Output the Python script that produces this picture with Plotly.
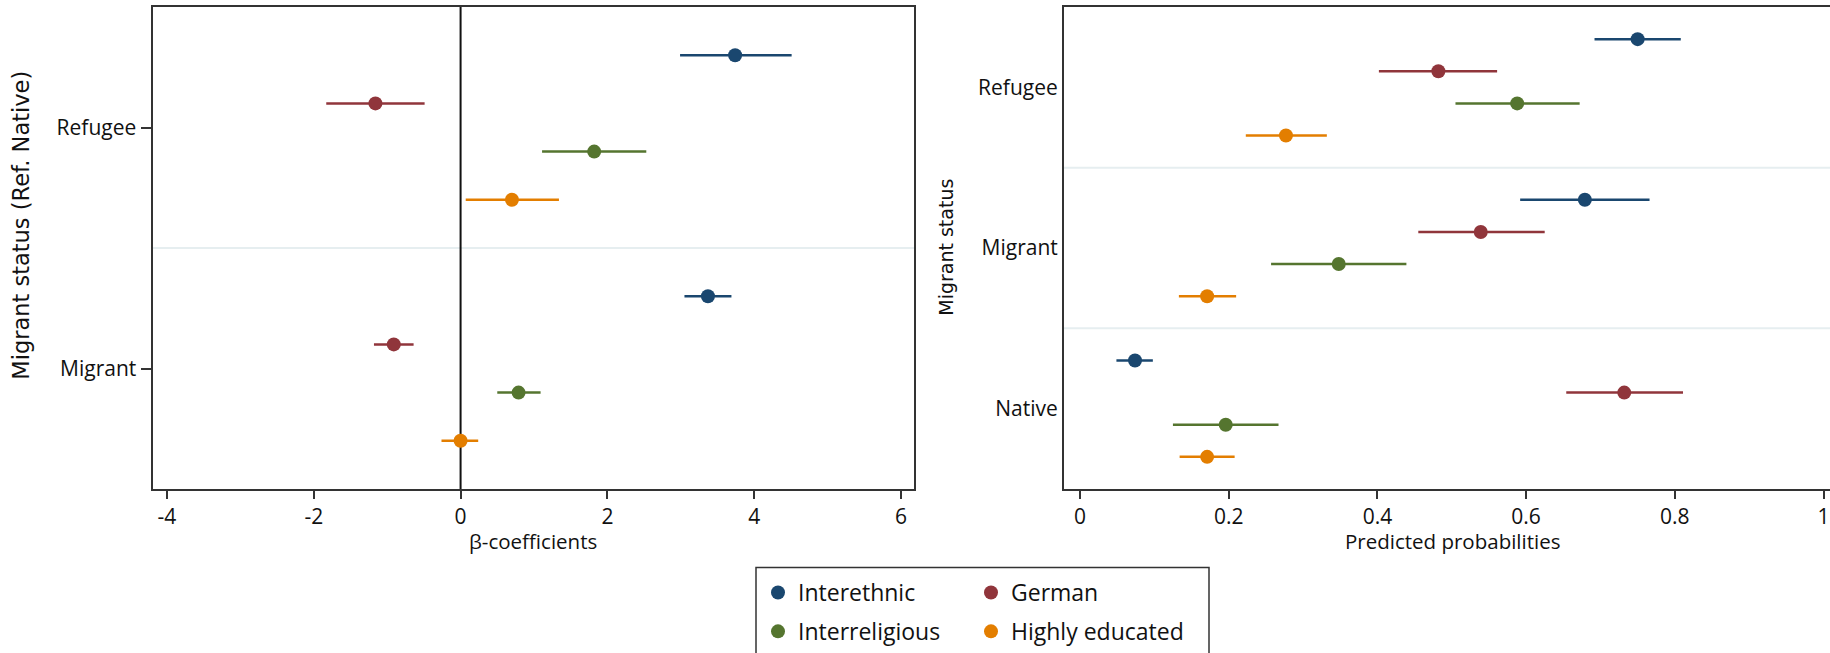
import plotly.graph_objects as go

# Outcome categories (series) and their colours
series = ["Interethnic", "German", "Interreligious", "Highly educated"]
colors = ["#1a476f", "#90353b", "#55752f", "#e37e00"]

# Left panel: beta coefficients by migrant status (reference: Native)
beta_groups = ["Refugee", "Migrant"]
beta_est = [[3.74, 3.37], [-1.16, -0.91], [1.82, 0.79], [0.70, 0.00]]
beta_lo = [[2.99, 3.05], [-1.83, -1.18], [1.11, 0.50], [0.07, -0.26]]
beta_hi = [[4.51, 3.69], [-0.49, -0.64], [2.53, 1.09], [1.34, 0.24]]
beta_ticks = [-4, -2, 0, 2, 4, 6]
beta_ticktext = ["-4", "-2", "0", "2", "4", "6"]

# Right panel: predicted probabilities by migrant status
prob_groups = ["Refugee", "Migrant", "Native"]
prob_est = [[0.750, 0.679, 0.074], [0.482, 0.539, 0.732],
            [0.588, 0.348, 0.196], [0.277, 0.171, 0.171]]
prob_lo = [[0.692, 0.592, 0.049], [0.402, 0.455, 0.654],
           [0.505, 0.257, 0.125], [0.223, 0.133, 0.134]]
prob_hi = [[0.808, 0.766, 0.098], [0.561, 0.625, 0.811],
           [0.672, 0.439, 0.267], [0.332, 0.210, 0.208]]
prob_ticks = [0, 0.2, 0.4, 0.6, 0.8, 1]
prob_ticktext = ["0", "0.2", "0.4", "0.6", "0.8", "1"]

W, H = 1830, 653
M_T, M_B = 7, 163.5
STEP = 5  # rows per group: 4 series + 1 spacer
TICK_FONT = dict(family="Open Sans", size=21, color="#111")
TITLE_FONT = dict(family="Open Sans", size=20.5, color="#111")
LINE = "#333"


def rows(n_groups, s):
    return [g * STEP + s for g in range(n_groups)]


def py(p):
    """pixel row -> paper y"""
    return (H - M_B - p) / (H - M_T - M_B)


fig = go.Figure()
for s, name in enumerate(series):
    leg = "legend" if s in (0, 2) else "legend2"
    est, lo, hi = beta_est[s], beta_lo[s], beta_hi[s]
    fig.add_trace(go.Scatter(
        x=est, y=rows(len(beta_groups), s), mode="markers", name=name,
        legend=leg, legendgroup=name,
        marker=dict(color=colors[s], size=14),
        error_x=dict(type="data", symmetric=False,
                     array=[h - e for h, e in zip(hi, est)],
                     arrayminus=[e - l for e, l in zip(est, lo)],
                     color=colors[s], thickness=2.5, width=0),
        xaxis="x", yaxis="y"))
    est, lo, hi = prob_est[s], prob_lo[s], prob_hi[s]
    fig.add_trace(go.Scatter(
        x=est, y=rows(len(prob_groups), s), mode="markers", name=name,
        legendgroup=name, showlegend=False,
        marker=dict(color=colors[s], size=14),
        error_x=dict(type="data", symmetric=False,
                     array=[h - e for h, e in zip(hi, est)],
                     arrayminus=[e - l for e, l in zip(est, lo)],
                     color=colors[s], thickness=2.5, width=0),
        xaxis="x2", yaxis="y2"))

shapes = []
# light separators between status groups
for g in range(len(beta_groups) - 1):
    shapes.append(dict(type="line", xref="x domain", yref="y", x0=0, x1=1,
                       y0=g * STEP + 4, y1=g * STEP + 4, layer="below",
                       line=dict(color="#e6eef0", width=2)))
for g in range(len(prob_groups) - 1):
    shapes.append(dict(type="line", xref="x2 domain", yref="y2", x0=0, x1=1,
                       y0=g * STEP + 4, y1=g * STEP + 4, layer="below",
                       line=dict(color="#e6eef0", width=2)))
# reference line at zero
shapes.append(dict(type="line", xref="x", yref="y domain", x0=0, x1=0,
                   y0=0, y1=1, layer="below", line=dict(color="#111", width=2)))
# legend frame
shapes.append(dict(type="rect", xref="paper", yref="paper",
                   x0=756 / W, x1=1209 / W, y0=py(680), y1=py(568),
                   line=dict(color=LINE, width=1.5)))

axis_common = dict(showgrid=False, zeroline=False, showline=True,
                   linecolor=LINE, linewidth=2, tickfont=TICK_FONT,
                   ticks="outside", tickcolor=LINE, tickwidth=1.5)

LEGEND_FONT = dict(family="Open Sans", size=23, color="#111")

fig.update_layout(
    width=W, height=H,
    margin=dict(l=0, r=0, t=M_T, b=M_B),
    paper_bgcolor="white", plot_bgcolor="white",
    showlegend=True,
    xaxis=dict(domain=[152.5 / W, 914 / W], range=[-4.197, 6.177],
               tickvals=beta_ticks, ticktext=beta_ticktext, ticklen=8,
               mirror=True, anchor="y", **axis_common),
    yaxis=dict(domain=[0, 1], range=[len(beta_groups) * STEP - 1, -1],
               tickvals=[g * STEP + 1.5 for g in range(len(beta_groups))],
               ticktext=beta_groups, ticklen=10, mirror=True, anchor="x",
               **axis_common),
    xaxis2=dict(domain=[1064 / W, 1.0], range=[-0.0215, 1.0087],
                tickvals=prob_ticks, ticktext=prob_ticktext, ticklen=8,
                mirror=True, anchor="y2", **axis_common),
    yaxis2=dict(domain=[0, 1], range=[len(prob_groups) * STEP - 1, -1],
                tickvals=[g * STEP + 1.5 for g in range(len(prob_groups))],
                ticktext=prob_groups, mirror=False, anchor="x2",
                **{**axis_common, "ticks": ""}),
    legend=dict(x=758 / W, y=py(572), xanchor="left", yanchor="top",
                orientation="v", bgcolor="rgba(0,0,0,0)", itemwidth=30,
                tracegroupgap=6, font=LEGEND_FONT),
    legend2=dict(x=971 / W, y=py(572), xanchor="left", yanchor="top",
                 orientation="v", bgcolor="rgba(0,0,0,0)", itemwidth=30,
                 tracegroupgap=6, font=LEGEND_FONT),
    shapes=shapes,
    annotations=[
        dict(text="β-coefficients", xref="paper", yref="paper",
             x=533 / W, y=py(542), showarrow=False, xanchor="center",
             yanchor="middle", font=TITLE_FONT),
        dict(text="Predicted probabilities", xref="paper", yref="paper",
             x=1452 / W, y=py(542), showarrow=False, xanchor="center",
             yanchor="middle", font=TITLE_FONT),
        dict(text="Migrant status (Ref. Native)", xref="paper", yref="paper",
             x=21 / W, y=py(226), showarrow=False, textangle=-90,
             xanchor="center", yanchor="middle",
             font=dict(family="DejaVu Sans", size=22.5, color="#111")),
        dict(text="Migrant status", xref="paper", yref="paper",
             x=946 / W, y=py(248), showarrow=False, textangle=-90,
             xanchor="center", yanchor="middle",
             font=dict(family="DejaVu Sans", size=19, color="#111")),
    ],
)

fig.write_html("out.html")
